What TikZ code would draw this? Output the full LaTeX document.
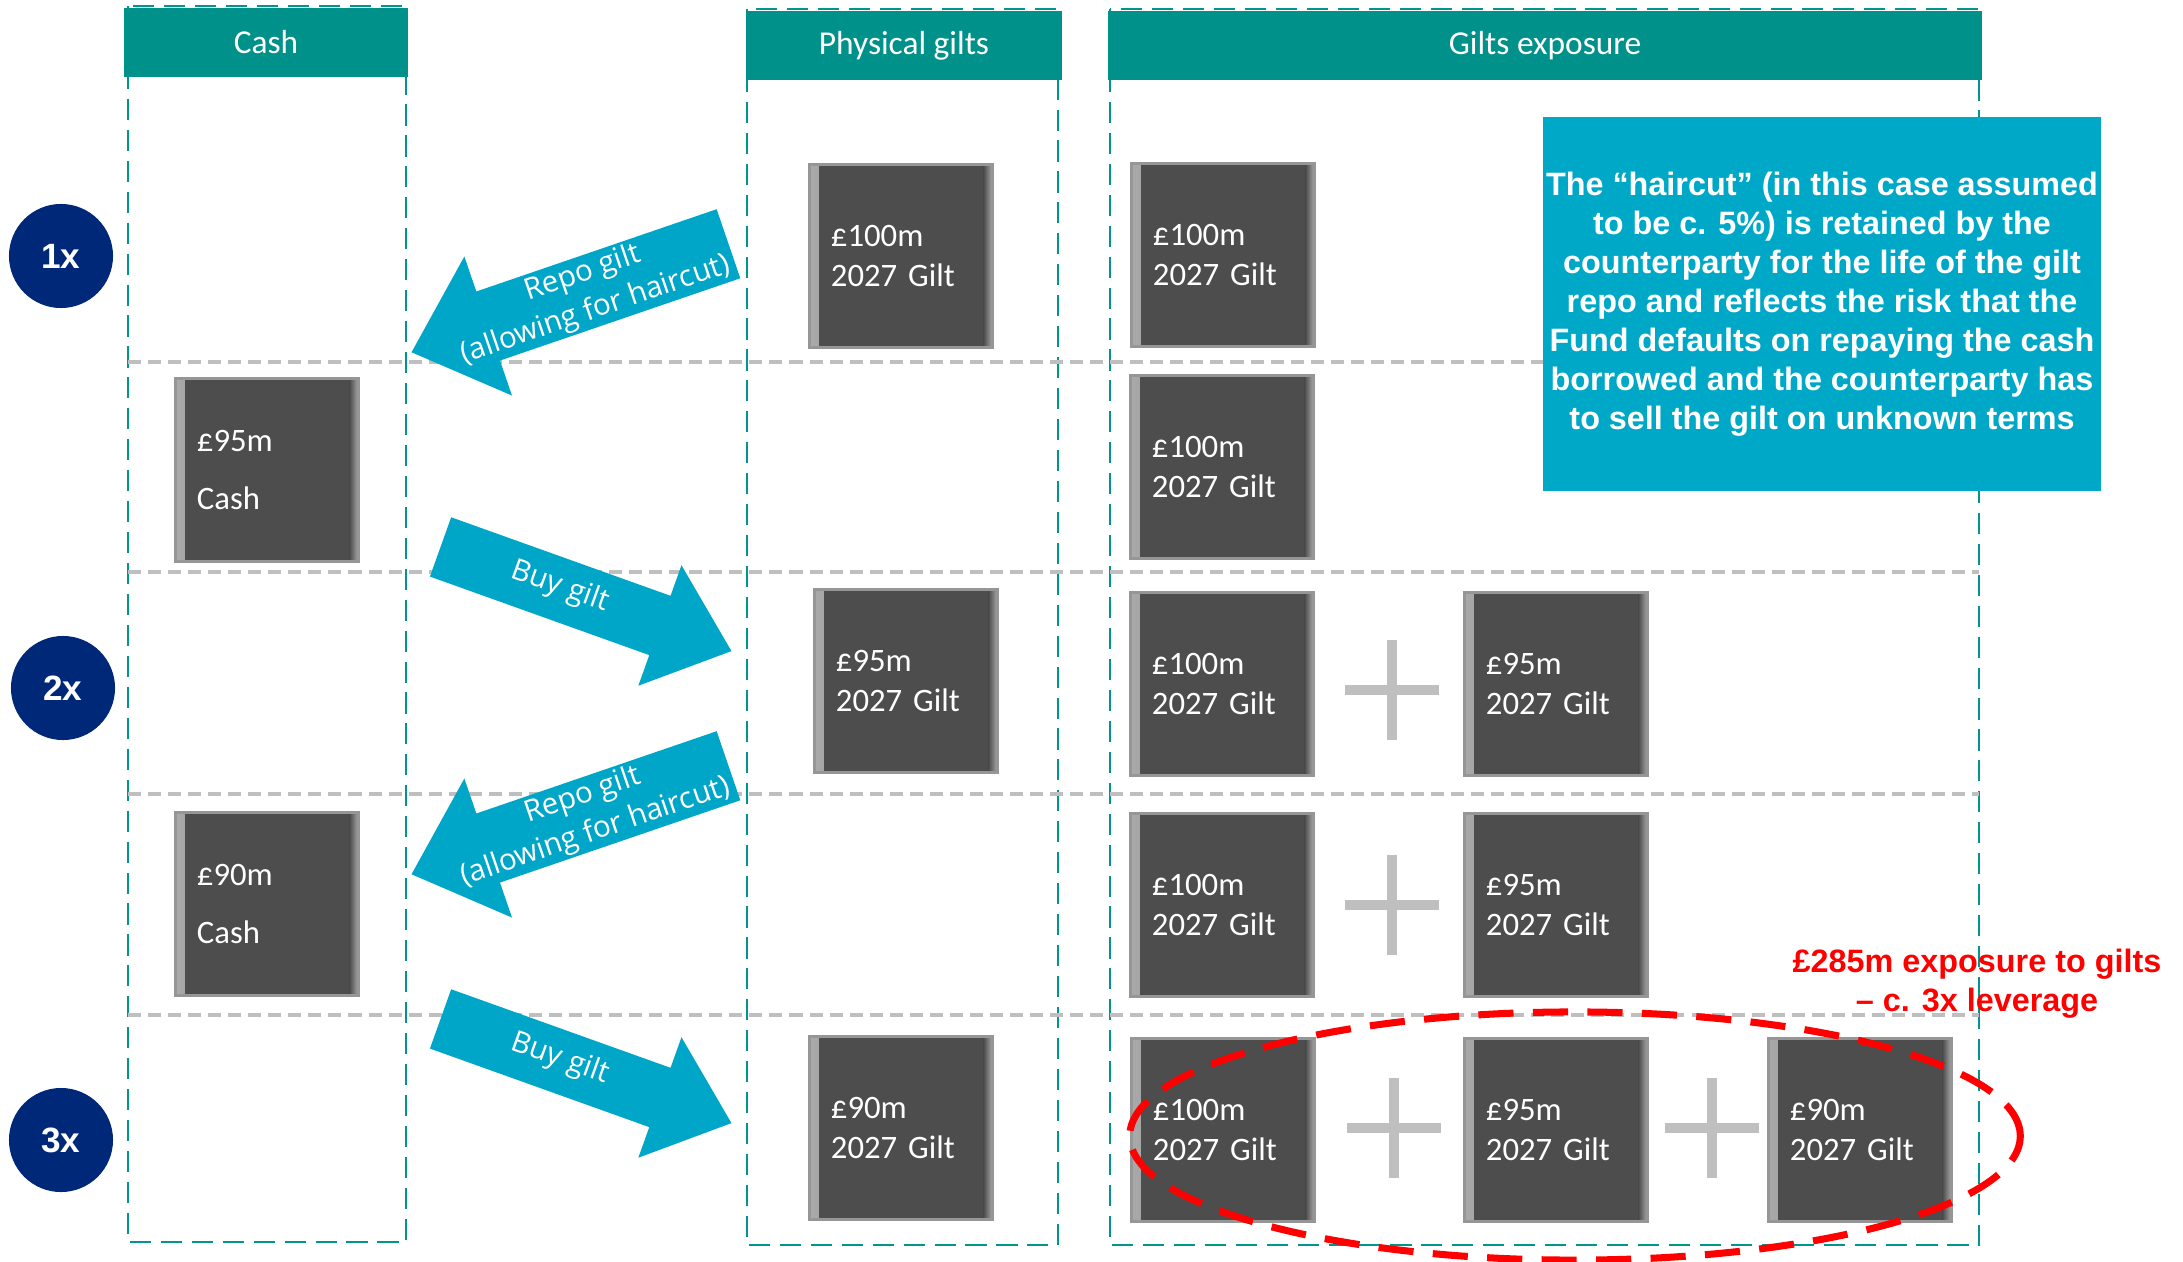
\documentclass[tikz,border=0pt]{standalone}
\usepackage{fontspec}
\setmainfont{Liberation Sans}
\newfontfamily\carlito{Carlito}
\newfontfamily\opensans{Open Sans}
\usepackage{tikz}
\usetikzlibrary{positioning}

\definecolor{headteal}{RGB}{0,145,138}
\definecolor{lineteal}{RGB}{0,150,140}
\definecolor{arrowcyan}{RGB}{0,166,200}
\definecolor{notecyan}{RGB}{0,168,200}
\definecolor{stepnavy}{RGB}{0,40,120}
\definecolor{boxgrey}{RGB}{77,77,77}
\definecolor{boxedge}{RGB}{150,150,150}
\definecolor{boxbevel}{RGB}{170,170,170}
\definecolor{gridgrey}{RGB}{191,191,191}

% big block arrow: centre x, centre y, angle, half length, half shaft, half head, head length
\newcommand{\blockarrow}[7]{%
  \fill[arrowcyan, shift={(#1,#2)}, rotate=#3]
    (-#4,-#5) -- (#4-#7,-#5) -- (#4-#7,-#6) -- (#4,0) -- (#4-#7,#6) -- (#4-#7,#5) -- (-#4,#5) -- cycle;}

\tikzset{
  colframe/.style={draw=lineteal, line width=0.7pt, dash pattern=on 6pt off 2.8pt},
  colhead/.style={fill=headteal, text=white, inner sep=0, minimum height=0.69cm,
    font=\carlito\fontsize{9.5}{11}\selectfont},
  gridline/.style={draw=gridgrey, line width=0.9pt, dash pattern=on 3.7pt off 2pt},
  giltbox/.style={fill=boxgrey, draw=boxedge, line width=0.8pt, inner sep=0,
    minimum width=1.83cm, minimum height=1.83cm, text width=1.4cm, align=left,
    text=white, font=\carlito\fontsize{9.3}{11.1}\selectfont,
    path picture={
      \shade[left color=boxbevel, right color=boxgrey]
        (path picture bounding box.south west) rectangle ([xshift=0.09cm]path picture bounding box.north west);
      \shade[left color=boxgrey, right color=boxbevel]
        ([xshift=-0.09cm]path picture bounding box.south east) rectangle (path picture bounding box.north east);
    }},
  stepcircle/.style={circle, fill=stepnavy, text=white, minimum size=1.04cm, inner sep=0,
    font=\bfseries\fontsize{10}{12}\selectfont},
  arrowtext/.style={text=white, align=center, inner sep=0,
    font=\opensans\fontsize{8.4}{11}\selectfont},
  plusbar/.style={draw=gridgrey, line width=2.6pt},
  pics/plussign/.style={code={\draw[plusbar] (-47,0) -- (47,0) (0,-50) -- (0,50);}},
  notebox/.style={fill=notecyan, text=white, inner sep=0, align=center,
    minimum width=5.58cm, minimum height=3.74cm,
    font=\bfseries\fontsize{9.2}{11.1}\selectfont},
  redring/.style={draw=red, line width=2pt, dash pattern=on 10pt off 5.5pt},
  rednote/.style={text=red, align=center, inner sep=0,
    font=\bfseries\fontsize{9.2}{11.1}\selectfont}
}

\begin{document}
\begin{tikzpicture}[x=0.01cm, y=0.01cm]
\useasboundingbox (0,0) rectangle (2183,-1261);

% columns
\draw[colframe] (128,-6) rectangle (406,-1242);
\draw[colframe] (747,-9) rectangle (1058,-1245);
\draw[colframe] (1110,-9) rectangle (1979,-1245);
\node[colhead, minimum width=2.83cm] (cashhead) at (266,-42.5) {Cash};
\node[colhead, minimum width=3.16cm] (physhead) at (904,-45.5) {Physical gilts};
\node[colhead, minimum width=8.74cm] (expohead) at (1545,-45.5) {Gilts exposure};

% row separators
\foreach \yy in {362,572,794,1015}
  \draw[gridline] (128,-\yy) -- (1979,-\yy);

% cash
\node[giltbox] (cash95) at (267,-470) {£95m\\[5.5pt]Cash};
\node[giltbox] (cash90) at (267,-904) {£90m\\[5.5pt]Cash};

% physical gilts
\node[giltbox] (phys100) at (901,-256) {£100m\\2027 Gilt};
\node[giltbox] (phys95) at (906,-681) {£95m\\2027 Gilt};
\node[giltbox] (phys90) at (901,-1128) {£90m\\2027 Gilt};

% gilts exposure
\node[giltbox] (expoA) at (1223,-255) {£100m\\2027 Gilt};
\node[giltbox] (expoB) at (1222,-467) {£100m\\2027 Gilt};
\node[giltbox] (expoC) at (1222,-684) {£100m\\2027 Gilt};
\node[giltbox] (expoCb) at (1556,-684) {£95m\\2027 Gilt};
\node[giltbox] (expoD) at (1222,-905) {£100m\\2027 Gilt};
\node[giltbox] (expoDb) at (1556,-905) {£95m\\2027 Gilt};
\node[giltbox] (expoE) at (1223,-1130) {£100m\\2027 Gilt};
\node[giltbox] (expoEb) at (1556,-1130) {£95m\\2027 Gilt};
\node[giltbox] (expoEc) at (1860,-1130) {£90m\\2027 Gilt};
\pic at (1392,-690) {plussign};
\pic at (1392,-905) {plussign};
\pic at (1394,-1128) {plussign};
\pic at (1712,-1128) {plussign};

% arrows
\blockarrow{570}{-298}{198.9}{167.5}{36.5}{73.5}{81}
\node[arrowtext, rotate=18.9] (repotext1) at (589,-292) {Repo gilt\\(allowing for haircut)};
\blockarrow{586}{-599}{-19.7}{154.5}{31.5}{64}{76}
\node[arrowtext, rotate=-19.7] (buytext1) at (560,-587) {Buy gilt};
\blockarrow{570}{-820}{198.9}{167.5}{36.5}{73.5}{81}
\node[arrowtext, rotate=18.9] (repotext2) at (589,-814) {Repo gilt\\(allowing for haircut)};
\blockarrow{586}{-1071}{-19.7}{154.5}{31.5}{64}{76}
\node[arrowtext, rotate=-19.7] (buytext2) at (560,-1059) {Buy gilt};

% leverage steps
\node[stepcircle] (one) at (61,-256) {1x};
\node[stepcircle] (two) at (63,-688) {2x};
\node[stepcircle] (three) at (61,-1140) {3x};

% haircut note
\node[notebox] (haircut) at (1822,-304) {The “haircut” (in this case assumed\\to be c. 5\%) is retained by the\\counterparty for the life of the gilt\\repo and reflects the risk that the\\Fund defaults on repaying the cash\\borrowed and the counterparty has\\to sell the gilt on unknown terms};

% total exposure
\draw[redring] (1575,-1136) ellipse [x radius=4.45cm, y radius=1.24cm];
\node[rednote] (total) at (1977,-984) {£285m exposure to gilts\\– c. 3x leverage};
\end{tikzpicture}
\end{document}
